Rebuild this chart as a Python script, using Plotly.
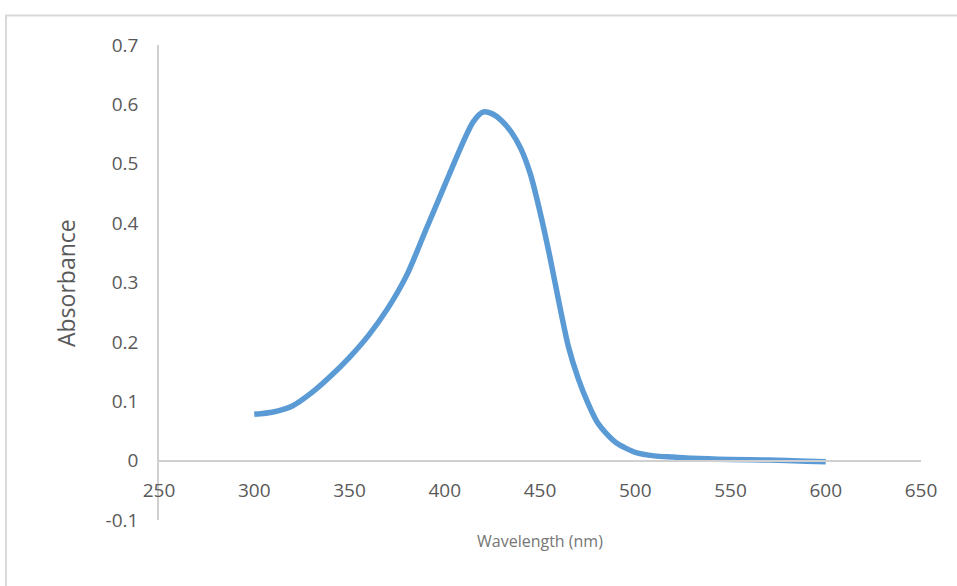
import plotly.graph_objects as go

wavelength = [300, 310, 320, 330, 340, 350, 360, 370, 380, 390, 400, 410, 415, 420, 425,
              430, 435, 440, 445, 450, 455, 460, 465, 470, 475, 480, 485, 490, 495, 500,
              510, 520, 530, 550, 570, 590, 600]
absorbance = [0.078, 0.082, 0.092, 0.114, 0.142, 0.174, 0.211, 0.256, 0.312, 0.388, 0.464,
              0.539, 0.571, 0.587, 0.584, 0.572, 0.553, 0.525, 0.482, 0.419, 0.346, 0.266,
              0.191, 0.139, 0.098, 0.065, 0.045, 0.030, 0.021, 0.014, 0.008, 0.006, 0.004,
              0.002, 0.001, -0.001, -0.002]

x_ticks = [250, 300, 350, 400, 450, 500, 550, 600, 650]
y_ticks = [-0.1, 0, 0.1, 0.2, 0.3, 0.4, 0.5, 0.6, 0.7]
y_tick_text = ["-0.1", "0", "0.1", "0.2", "0.3", "0.4", "0.5", "0.6", "0.7"]

W, H = 957, 586
L, R, T, B = 159, 36, 45, 66
pw, ph = W - L - R, H - T - B

fig = go.Figure()
fig.add_trace(go.Scatter(
    x=wavelength, y=absorbance, mode="lines",
    line=dict(color="#5B9BD5", width=5.5, shape="spline", smoothing=0.8),
    showlegend=False, hoverinfo="skip"))

y0_paper = (0 - (-0.1)) / 0.8

fig.update_layout(
    width=W, height=H,
    margin=dict(l=L, r=R, t=T, b=B),
    paper_bgcolor="white", plot_bgcolor="white",
    font=dict(family="Open Sans", color="#595959"),
    xaxis=dict(range=[250, 650], tickvals=x_ticks, showgrid=False, zeroline=False,
               showline=True, linecolor="#D0D0D0", linewidth=1.5,
               anchor="free", position=y0_paper, ticks="",
               tickfont=dict(size=19, color="#595959"), ticklabelstandoff=13),
    yaxis=dict(range=[-0.1, 0.7], tickvals=y_ticks, ticktext=y_tick_text,
               showgrid=False, zeroline=False, showline=True, linecolor="#D0D0D0",
               linewidth=1.5, ticks="", tickfont=dict(size=19, color="#595959"),
               ticklabelstandoff=15),
    shapes=[
        dict(type="line", xref="paper", yref="paper",
             x0=(5 - L) / pw, x1=(W + 5 - L) / pw,
             y0=(H - B - 15.5) / ph, y1=(H - B - 15.5) / ph,
             line=dict(color="#D9D9D9", width=2)),
        dict(type="line", xref="paper", yref="paper",
             x0=(6 - L) / pw, x1=(6 - L) / pw,
             y0=(H - B - 15.5) / ph, y1=(H - B - H - 5) / ph,
             line=dict(color="#D9D9D9", width=2)),
    ],
    annotations=[
        dict(text="Absorbance", xref="paper", yref="paper",
             x=(66 - L) / pw, y=(H - B - 283) / ph, textangle=-90, showarrow=False,
             font=dict(size=23, color="#595959", family="Open Sans"),
             xanchor="center", yanchor="middle"),
        dict(text="Wavelength (nm)", xref="paper", yref="paper",
             x=(540 - L) / pw, y=(H - B - 541) / ph, showarrow=False,
             font=dict(size=16, color="#767676", family="Open Sans"),
             xanchor="center", yanchor="middle"),
    ],
)

fig.write_html("out.html")
